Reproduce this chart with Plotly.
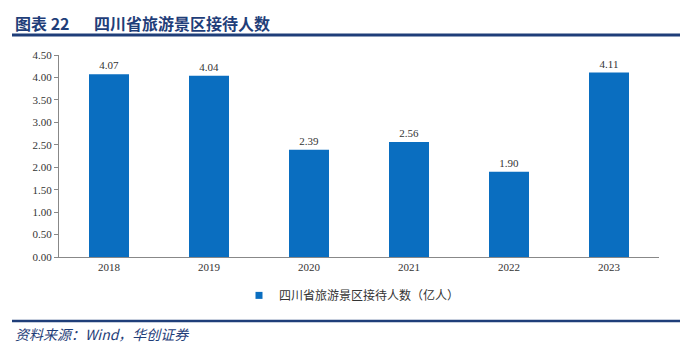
import plotly.graph_objects as go

years = ["2018", "2019", "2020", "2021", "2022", "2023"]
visitors = [4.07, 4.04, 2.39, 2.56, 1.90, 4.11]
y_ticks = [0, 0.5, 1, 1.5, 2, 2.5, 3, 3.5, 4, 4.5]
series_name = "四川省旅游景区接待人数（亿人）"
title_label = "图表 22"
title_text = "四川省旅游景区接待人数"
source_text = "资料来源：Wind，华创证券"

NAVY = "#1F3E79"
BAR = "#0A6EC0"
serif = "Liberation Serif, Times New Roman, serif"
cjk = "Noto Sans CJK SC"

fig = go.Figure()
fig.add_trace(go.Bar(
    x=years, y=visitors, name=series_name,
    marker=dict(color=BAR, line=dict(width=0)),
    width=0.4,
    text=[f"{v:.2f}" for v in visitors],
    textposition="outside",
    textfont=dict(family=serif, size=11, color="#333333"),
    cliponaxis=False,
    showlegend=False,
))
# legend-only entry with a small square swatch
fig.add_trace(go.Scatter(
    x=[None], y=[None], mode="markers", name=series_name,
    marker=dict(symbol="square", size=7, color=BAR),
    showlegend=True,
))

fig.update_layout(
    width=692, height=353,
    margin=dict(l=59, r=33, t=55, b=96),
    paper_bgcolor="white", plot_bgcolor="white",
    showlegend=True,
    legend=dict(orientation="h", x=0.30, xanchor="left", y=-0.19, yanchor="middle",
                font=dict(family=cjk, size=12, color="#333333"),
                itemwidth=30, itemsizing="trace", tracegroupgap=0),
    xaxis=dict(
        showline=True, linecolor="#888888", linewidth=1,
        ticks="", tickfont=dict(family=serif, size=11, color="#333333"),
        showgrid=False,
    ),
    yaxis=dict(
        range=[0, 4.5], tickvals=y_ticks, ticktext=[f"{v:.2f}" for v in y_ticks],
        showline=True, linecolor="#888888", linewidth=1,
        ticks="outside", ticklen=4, tickcolor="#888888",
        tickfont=dict(family=serif, size=11, color="#333333"),
        showgrid=False, zeroline=False,
    ),
    font=dict(family=cjk),
)

PLOT_TOP = 55
PLOT_BOT = 257

def px2x(px):
    return (px - 59) / 600

def py2y(py):
    return (PLOT_BOT - py) / (PLOT_BOT - PLOT_TOP)

fig.add_shape(type="line", xref="paper", yref="paper",
              x0=px2x(12), x1=px2x(680), y0=py2y(35), y1=py2y(35),
              line=dict(color=NAVY, width=3))
fig.add_shape(type="line", xref="paper", yref="paper",
              x0=px2x(12), x1=px2x(680), y0=py2y(321), y1=py2y(321),
              line=dict(color=NAVY, width=2.5))

fig.add_annotation(xref="paper", yref="paper", x=px2x(13), y=py2y(23),
                   xanchor="left", yanchor="middle", showarrow=False,
                   text="<b>" + title_label + "</b>",
                   font=dict(family=cjk, size=16, color=NAVY))
fig.add_annotation(xref="paper", yref="paper", x=px2x(92), y=py2y(23),
                   xanchor="left", yanchor="middle", showarrow=False,
                   text="<b>" + title_text + "</b>",
                   font=dict(family=cjk, size=16, color=NAVY))
fig.add_annotation(xref="paper", yref="paper", x=px2x(13), y=py2y(334),
                   xanchor="left", yanchor="middle", showarrow=False,
                   text="<i>" + source_text + "</i>",
                   font=dict(family=cjk, size=14, color=NAVY))

fig.write_html("out.html")
